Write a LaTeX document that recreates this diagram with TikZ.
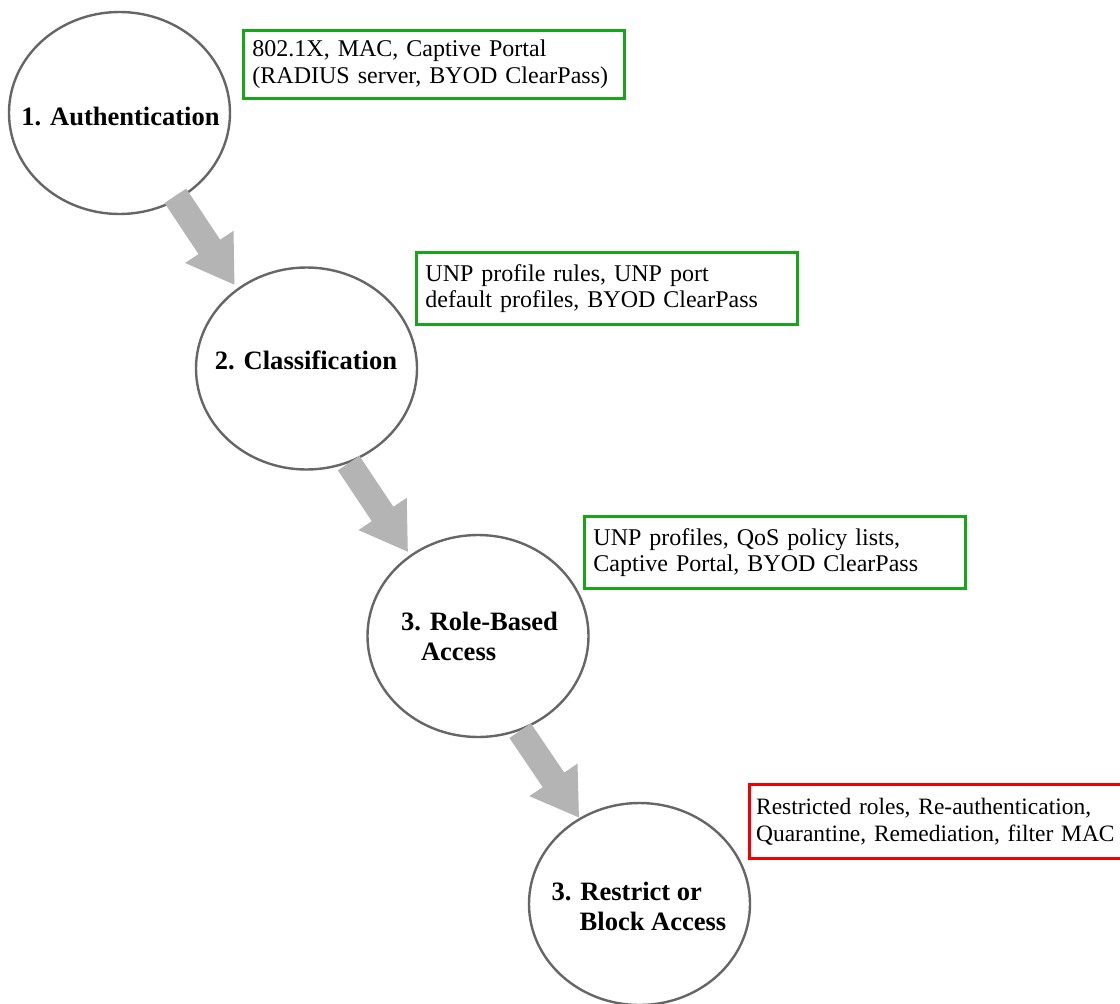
\documentclass[tikz,border=0pt]{standalone}
\usepackage{fontspec}
\setmainfont{Liberation Serif}
\usetikzlibrary{shapes.geometric,arrows.meta}
\definecolor{stepgray}{HTML}{666666}
\definecolor{arrowgray}{HTML}{B4B4B4}
\definecolor{okgreen}{HTML}{17A617}
\definecolor{denyred}{HTML}{F20000}

\begin{document}
\begin{tikzpicture}[x=0.75pt,y=-0.75pt]
  \tikzset{stepcircle/.style={ellipse,draw=stepgray,line width=1.8pt,fill=white,minimum width=165.75pt,minimum height=151.5pt,inner sep=0pt}}
  \tikzset{steplabel/.style={font=\fontsize{19.9pt}{22.5pt}\selectfont\bfseries,align=left,inner sep=0pt}}
  \tikzset{infobox/.style={draw=okgreen,line width=2.2pt,anchor=north west,align=left,text width=272pt,minimum height=54pt,inner xsep=6.75pt,font=\fontsize{18pt}{20pt}\selectfont}}
  \tikzset{denybox/.style={infobox,draw=denyred,text width=300pt,inner xsep=5pt,minimum height=55.5pt,font=\fontsize{17.6pt}{20pt}\selectfont}}
  \tikzset{flowarrow/.style={draw=arrowgray,line width=19.5pt,-{Triangle[length=34.5pt,width=41pt]}}}
  \path[use as bounding box,clip] (0,0) rectangle (1120,1003);
  \node[stepcircle] (c1) at (119.5,113) {};
  \node[stepcircle] (c2) at (306.5,368.5) {};
  \node[stepcircle] (c3) at (478,636) {};
  \node[stepcircle] (c4) at (639.5,904) {};
  \draw[flowarrow,shorten <=-3.75pt,shorten >=3pt] (c1.-56) -- (c2.131);
  \draw[flowarrow,shorten >=2.5pt] (c2.-66) -- (c3.130);
  \draw[flowarrow] (c3.-66) -- (c4.125);
  \node[steplabel] (t1) at (120.5,116) {1. Authentication};
  \node[steplabel] (t2) at (306,360) {2. Classification};
  \node[steplabel] (t3) at (479.5,636) {3. Role-Based\\\hspace*{15pt}Access};
  \node[steplabel] (t4) at (639,906) {3. Restrict or\\\hspace*{21pt}Block Access};
  \node[infobox,minimum height=51pt] (b1) at (242,29) {802.1X, MAC, Captive Portal\\(RADIUS server, BYOD ClearPass)};
  \node[infobox] (b2) at (415,251) {UNP profile rules, UNP port\\default profiles, BYOD ClearPass};
  \node[infobox] (b3) at (583,515) {UNP profiles, QoS policy lists,\\Captive Portal, BYOD ClearPass};
  \node[denybox] (b4) at (748,783) {Restricted roles, Re-authentication,\\Quarantine, Remediation, filter MAC};
\end{tikzpicture}
\end{document}
